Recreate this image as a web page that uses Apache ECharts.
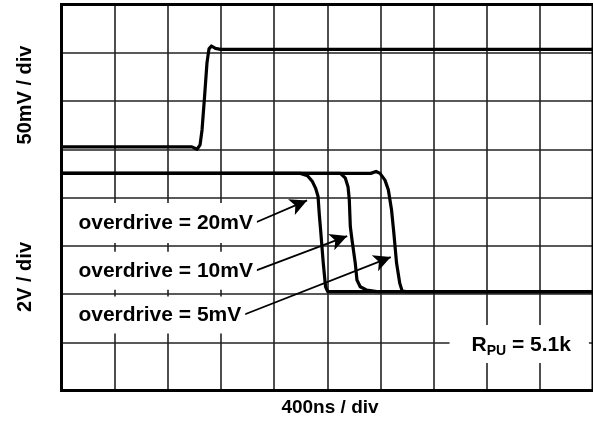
<!DOCTYPE html>
<html>
<head>
<meta charset="utf-8">
<script src="https://cdn.jsdelivr.net/npm/echarts@6/dist/echarts.min.js"></script>
<style>
  html, body { margin: 0; padding: 0; background: #fff; }
  #main { width: 593px; height: 423px; }
</style>
</head>
<body>
<div id="main"></div>
<script>
// 示波器截图: 横轴 10 格, 纵轴 8 格, 数据单位都是"格"
// 比较器输入 (50mV / div)
const inX = [0, 2.454, 2.551, 2.607, 2.644, 2.691, 2.737, 2.775, 2.821, 2.896, 2.989, 10];
const inY = [5.05, 5.05, 5.0, 5.09, 5.4, 6.08, 6.79, 7.08, 7.14, 7.09, 7.07, 7.07];

// 输出 (2V / div), 三种 overdrive
const out20X = [0, 4.497, 4.628, 4.721, 4.782, 4.827, 4.851, 4.875, 4.925, 4.968, 5.009, 10];
const out20Y = [4.5, 4.5, 4.45, 4.33, 4.19, 4.02, 3.64, 3.33, 2.64, 2.15, 2.05, 2.05];

const out10X = [0, 5.248, 5.341, 5.391, 5.415, 5.434, 5.466, 5.527, 5.559, 5.62, 5.745, 5.931, 10];
const out10Y = [4.5, 4.5, 4.4, 4.22, 3.95, 3.4, 3.12, 2.64, 2.29, 2.15, 2.08, 2.05, 2.05];

const out5X = [0, 5.819, 5.918, 5.993, 6.086, 6.149, 6.21, 6.253, 6.304, 6.365, 6.41, 6.49, 10];
const out5Y = [4.5, 4.5, 4.54, 4.5, 4.36, 4.16, 3.74, 3.26, 2.64, 2.22, 2.06, 2.05, 2.05];

// 标注文字
const odLabels = ['overdrive = 20mV', 'overdrive = 10mV', 'overdrive = 5mV'];
const rpuText = '{a|R}{s|PU}{a| = 5.1k}';

function zip(xs, ys) {
    return xs.map((x, i) => [x, ys[i]]);
}

const font = "'Liberation Sans', Arial, sans-serif";
const traceStyle = { color: '#000', width: 3.2, join: 'round', cap: 'round' };

function trace(name, xs, ys) {
    return {
        name: name,
        type: 'line',
        data: zip(xs, ys),
        showSymbol: false,
        symbol: 'none',
        lineStyle: traceStyle,
        itemStyle: { color: '#000' },
        animation: false,
        silent: true
    };
}

let chart = echarts.init(document.getElementById('main'));

let series = [
    trace('in', inX, inY),
    trace('od20', out20X, out20Y),
    trace('od10', out10X, out10Y),
    trace('od5', out5X, out5Y)
];

// 文字标注 (白底盖住网格线)
const boxLabel = { show: true, position: 'right', distance: 0, color: '#000', fontFamily: font, fontWeight: 'bold', fontSize: 21, lineHeight: 22, backgroundColor: '#fff', formatter: '{b}' };
series[0].markPoint = {
    symbol: 'rect',
    symbolSize: 1,
    itemStyle: { color: 'rgba(0,0,0,0)' },
    silent: true,
    animation: false,
    label: boxLabel,
    data: [
        { name: odLabels[0], coord: [0.158, 3.472], label: { padding: [12, 4, 6, 8] } },
        { name: odLabels[1], coord: [0.158, 2.481], label: { padding: [6, 4, 10, 8] } },
        { name: odLabels[2], coord: [0.158, 1.565], label: { padding: [5, 4, 10, 8] } },
        {
            name: 'rpu', coord: [7.291, 0.964],
            label: {
                padding: [9, 18, 7, 22],
                formatter: rpuText,
                rich: {
                    a: { fontFamily: font, fontWeight: 'bold', fontSize: 21, lineHeight: 22, color: '#000' },
                    s: { fontFamily: font, fontWeight: 'bold', fontSize: 14, lineHeight: 14, color: '#000', verticalAlign: 'top', padding: [10, 0, 0, 0] }
                }
            }
        }
    ]
};

// 箭头
series[1].markLine = {
    silent: true,
    animation: false,
    symbol: ['none', 'arrow'],
    symbolSize: [13, 17],
    lineStyle: { color: '#000', width: 1.8, type: 'solid' },
    label: { show: false },
    data: [
        [{ coord: [3.585, 3.451] }, { coord: [4.62, 3.94] }],
        [{ coord: [3.603, 2.462] }, { coord: [5.375, 3.2] }],
        [{ coord: [3.417, 1.565] }, { coord: [6.195, 2.765] }]
    ]
};

const gridLine = { show: true, showMinLine: false, showMaxLine: false, lineStyle: { color: '#222', width: 1.6 } };

let option = {
    backgroundColor: '#fff',
    animation: false,
    grid: {
        left: 61.5, top: 4.5, width: 537, height: 386,
        show: true, z: 1,
        borderColor: '#000', borderWidth: 3,
        backgroundColor: 'transparent'
    },
    xAxis: {
        type: 'value', min: 0, max: 10, interval: 1,
        axisLine: { show: false }, axisTick: { show: false }, axisLabel: { show: false },
        splitLine: gridLine
    },
    yAxis: {
        type: 'value', min: 0, max: 8, interval: 1,
        axisLine: { show: false }, axisTick: { show: false }, axisLabel: { show: false },
        splitLine: gridLine
    },
    graphic: [
        {
            type: 'text', x: 25, y: 95, rotation: Math.PI / 2,
            style: { text: '50mV / div', font: "bold 20px " + font, fill: '#000', align: 'center', verticalAlign: 'middle' }
        },
        {
            type: 'text', x: 25, y: 277, rotation: Math.PI / 2,
            style: { text: '2V / div', font: "bold 20px " + font, fill: '#000', align: 'center', verticalAlign: 'middle' }
        },
        {
            type: 'text', x: 330, y: 407.5,
            style: { text: '400ns / div', font: "bold 19px " + font, fill: '#000', align: 'center', verticalAlign: 'middle' }
        }
    ],
    series: series
};

chart.setOption(option);
</script>
</body>
</html>
